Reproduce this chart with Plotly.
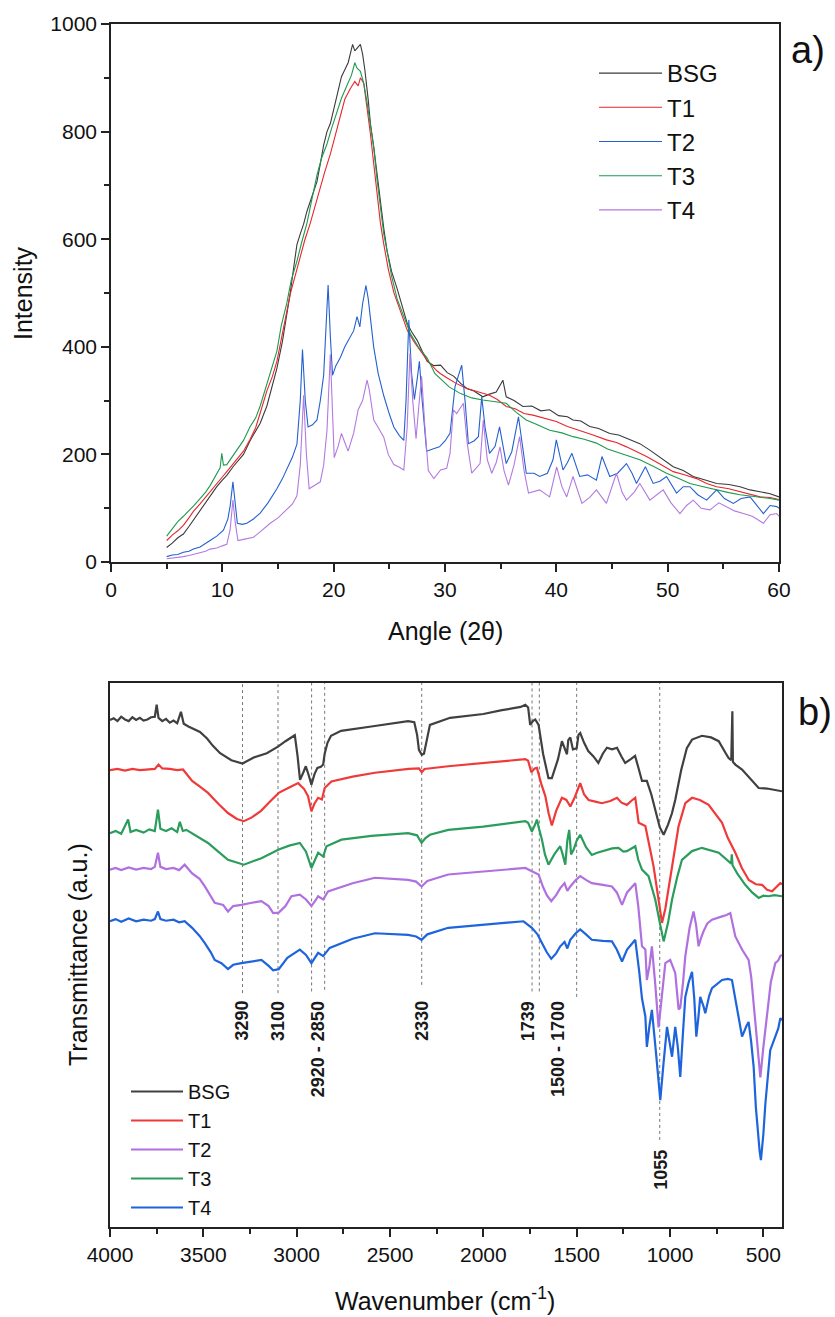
import plotly.graph_objects as go

W, H = 835, 1317

# ---------------- XRD data (panel a) ----------------
bsg_xrd_angle = [5.0, 5.5, 6.0, 6.5, 7.0, 7.4, 8.0, 8.5, 8.9, 9.5, 10.0, 10.4, 11.0, 11.5, 11.9, 12.5, 13.0, 13.4, 14.0, 14.5,
                 14.9, 15.4, 15.8, 16.1, 16.4, 16.7, 17.0, 17.3, 17.6, 18.0, 18.5, 18.8, 19.1, 19.4, 19.7, 20.0, 20.3, 20.7,
                 21.0, 21.3, 21.5, 21.7, 21.9, 22.1, 22.4, 22.6, 22.8, 23.1, 23.3, 23.6, 23.9, 24.2, 24.5, 24.8, 25.2, 25.7,
                 26.1, 26.6, 27.0, 27.5, 28.0, 28.4, 29.0, 29.6, 30.2, 30.8, 31.4, 32.0, 32.6, 33.4, 34.0, 34.6, 35.2, 35.5,
                 36.2, 37.0, 37.8, 38.6, 39.4, 40.2, 41.0, 41.5, 42.2, 43.0, 43.8, 44.8, 45.6, 46.6, 47.5, 48.4, 49.3, 50.5,
                 51.4, 52.3, 53.3, 54.4, 55.5, 56.5, 57.4, 58.3, 59.2, 60.0]
bsg_xrd_int = [27, 35, 45, 52, 66, 78, 96, 110, 123, 140, 152, 161, 178, 190, 200, 226, 245, 258, 290, 330,
               360, 410, 457, 500, 546, 590, 610, 628, 652, 675, 707, 740, 775, 800, 815, 841, 865, 902,
               915, 928, 945, 962, 950, 955, 962, 944, 915, 860, 815, 771, 720, 668, 620, 578, 540, 508,
               478, 444, 428, 412, 390, 373, 365, 366, 352, 345, 332, 322, 318, 307, 312, 316, 338, 307,
               300, 289, 290, 281, 283, 272, 270, 264, 262, 252, 248, 239, 236, 227, 220, 208, 194, 177,
               170, 159, 153, 146, 144, 140, 134, 131, 127, 121]

t1_xrd_angle = [5.0, 5.5, 6.0, 6.5, 7.0, 7.4, 8.0, 8.5, 8.9, 9.5, 10.0, 10.4, 11.0, 11.5, 11.9, 12.5, 13.0, 13.4, 14.0, 14.5,
                14.9, 15.4, 15.8, 16.1, 16.4, 16.7, 17.0, 17.4, 17.9, 18.3, 18.8, 19.2, 19.7, 20.1, 20.6, 21.0, 21.5, 21.9,
                22.2, 22.4, 22.7, 22.9, 23.3, 23.6, 23.9, 24.2, 24.5, 24.9, 25.4, 26.0, 26.6, 27.2, 27.8, 28.5, 29.3, 29.6,
                30.2, 31.0, 31.9, 32.8, 34.0, 34.7, 35.5, 36.3, 37.1, 37.9, 38.8, 40.0, 41.0, 42.1, 43.3, 44.5, 45.4, 46.3,
                47.2, 48.1, 49.3, 50.5, 51.5, 52.6, 53.5, 54.4, 55.5, 56.5, 57.4, 58.3, 59.2, 60.0]
t1_xrd_int = [40, 50, 58, 68, 82, 94, 108, 120, 130, 145, 158, 168, 183, 195, 206, 228, 250, 277, 318, 345,
              373, 425, 468, 498, 521, 545, 566, 598, 630, 660, 694, 725, 758, 790, 828, 860, 880, 893,
              885, 900, 890, 860, 796, 740, 681, 630, 591, 545, 501, 465, 431, 410, 392, 372, 355, 350,
              342, 332, 323, 318, 310, 302, 289, 285, 276, 273, 268, 261, 252, 245, 236, 227, 222, 214,
              205, 196, 182, 168, 162, 155, 146, 140, 136, 131, 126, 121, 120, 116]

t2_xrd_angle = [5.0, 5.5, 6.0, 6.5, 7.0, 7.4, 8.0, 8.5, 8.9, 9.5, 10.1, 10.5, 10.7, 10.95, 11.15, 11.35, 11.8, 12.2, 12.8,
                13.4, 14.1, 14.9, 15.4, 15.8, 16.3, 16.7, 17.0, 17.2, 17.45, 17.7, 18.1, 18.5, 18.8, 19.1, 19.35, 19.5,
                19.7, 19.9, 20.2, 20.6, 21.0, 21.5, 21.8, 22.1, 22.35, 22.6, 22.9, 23.1, 23.6, 24.0, 24.5, 25.0, 25.4,
                25.9, 26.3, 26.5, 26.75, 27.0, 27.25, 27.5, 27.7, 27.95, 28.35, 28.9, 29.5, 30.0, 30.45, 30.9, 31.5, 31.8,
                32.1, 32.6, 33.0, 33.3, 33.6, 34.0, 34.5, 34.9, 35.5, 36.0, 36.6, 37.0, 37.3, 38.0, 38.5, 39.2, 39.7,
                40.0, 40.6, 41.0, 41.4, 42.1, 42.8, 43.6, 44.1, 44.8, 45.5, 46.3, 46.8, 47.2, 48.0, 48.7, 49.3, 49.9,
                50.8, 51.4, 52.0, 52.7, 53.5, 54.4, 55.1, 55.9, 56.6, 57.4, 58.0, 58.6, 59.2, 59.8, 60.0]
t2_xrd_int = [10, 13, 14, 18, 20, 24, 28, 34, 40, 48, 59, 80, 104, 149, 110, 72, 70, 72, 80,
              91, 110, 136, 155, 174, 195, 219, 300, 395, 300, 251, 255, 264, 300, 347, 450, 515,
              420, 347, 365, 380, 400, 418, 430, 456, 437, 480, 514, 490, 399, 350, 309, 275, 251,
              235, 226, 300, 450, 350, 302, 340, 373, 300, 206, 210, 214, 225, 239, 326, 366, 300,
              220, 225, 233, 307, 250, 202, 215, 251, 183, 205, 270, 210, 165, 165, 159, 165, 190,
              227, 171, 185, 202, 159, 162, 152, 196, 159, 165, 183, 165, 146, 177, 146, 150, 159,
              128, 140, 140, 125, 115, 134, 118, 109, 118, 121, 105, 90, 105, 103, 100]

t3_xrd_angle = [5.0, 5.5, 6.0, 6.5, 7.0, 7.4, 8.0, 8.5, 8.9, 9.4, 9.8, 9.95, 10.1, 10.4, 11.0, 11.5, 11.9, 12.5, 13.0,
                13.4, 13.9, 14.4, 14.9, 15.3, 15.8, 16.2, 16.7, 17.1, 17.6, 18.0, 18.5, 18.9, 19.4, 19.8, 20.3, 20.7,
                21.2, 21.6, 21.9, 22.1, 22.4, 22.7, 23.0, 23.3, 23.6, 23.9, 24.2, 24.5, 24.8, 25.2, 25.7, 26.3, 26.9,
                27.6, 28.4, 29.1, 29.6, 30.4, 31.4, 32.4, 33.4, 34.4, 35.5, 36.4, 37.3, 38.3, 39.4, 40.5, 41.5, 42.5,
                43.6, 44.6, 45.7, 46.6, 47.5, 48.7, 49.9, 51.0, 52.0, 53.2, 54.4, 55.5, 56.5, 57.4, 58.3, 59.2, 60.0]
t3_xrd_int = [48, 62, 75, 85, 95, 104, 118, 130, 142, 160, 175, 202, 180, 181, 200, 215, 226, 252, 268,
              290, 325, 360, 392, 440, 482, 525, 559, 592, 630, 670, 719, 750, 777, 805, 835, 862,
              886, 905, 928, 918, 912, 890, 854, 810, 771, 710, 655, 610, 578, 532, 489, 455, 424,
              400, 379, 350, 340, 325, 313, 305, 301, 298, 295, 278, 264, 255, 245, 240, 233, 228,
              221, 210, 202, 196, 190, 178, 165, 155, 146, 140, 134, 129, 125, 123, 121, 118, 115]

t4_xrd_angle = [5.0, 5.5, 6.0, 6.5, 7.0, 7.4, 8.0, 8.5, 8.9, 9.5, 10.0, 10.4, 10.7, 10.95, 11.15, 11.4, 11.9, 12.4, 12.8,
                13.5, 14.3, 15.0, 15.8, 16.3, 16.7, 17.0, 17.3, 17.55, 17.8, 18.3, 18.8, 19.1, 19.4, 19.7, 19.85, 20.05,
                20.4, 20.7, 21.0, 21.3, 21.8, 22.2, 22.6, 23.0, 23.2, 23.6, 24.0, 24.5, 24.9, 25.4, 25.9, 26.3, 26.6,
                26.85, 27.1, 27.4, 27.65, 27.9, 28.2, 28.5, 29.0, 29.6, 30.15, 30.45, 30.75, 31.05, 31.65, 32.0, 32.4,
                33.15, 33.44, 33.8, 34.2, 34.6, 34.94, 35.3, 35.7, 36.2, 36.7, 37.1, 37.5, 38.5, 39.4, 40.03, 40.5,
                40.93, 41.5, 42.3, 43.0, 43.6, 44.5, 45.4, 45.9, 46.3, 47.0, 47.5, 48.4, 49.0, 49.6, 50.3, 51.1, 51.7,
                52.3, 53.0, 53.8, 54.6, 55.3, 56.0, 56.8, 57.6, 58.6, 59.2, 59.8, 60.0]
t4_xrd_int = [6, 7, 9, 10, 12, 14, 17, 20, 24, 26, 30, 33, 60, 115, 75, 40, 42, 45, 46,
              58, 72, 82, 97, 108, 123, 180, 310, 200, 136, 142, 149, 180, 245, 386, 290, 194,
              215, 239, 222, 206, 240, 283, 300, 338, 320, 264, 250, 232, 200, 181, 176, 171, 250,
              388, 300, 229, 290, 345, 250, 170, 155, 171, 174, 202, 283, 276, 295, 220, 165,
              183, 264, 190, 165, 185, 214, 170, 143, 180, 233, 170, 128, 134, 121, 177, 140,
              121, 159, 109, 120, 134, 109, 165, 130, 115, 130, 146, 115, 125, 134, 110, 90, 105,
              115, 100, 97, 110, 103, 95, 90, 85, 72, 88, 90, 85]

# ---------------- FTIR data (panel b), stacked a.u. ----------------
bsg_ftir_wn = [4000, 3980, 3960, 3940, 3920, 3900, 3880, 3860, 3840, 3820, 3800, 3780, 3760, 3750, 3740, 3720, 3700, 3680,
               3660, 3640, 3620, 3605, 3580, 3550, 3518, 3480, 3450, 3410, 3350, 3290, 3230, 3160, 3100, 3060, 3035, 3010,
               2995, 2982, 2965, 2951, 2935, 2921, 2905, 2889, 2870, 2858, 2850, 2835, 2816, 2762, 2600, 2403, 2370, 2355,
               2345, 2330, 2318, 2305, 2286, 2178, 2000, 1900, 1800, 1775, 1760, 1749, 1735, 1722, 1704, 1680, 1651, 1633,
               1600, 1579, 1560, 1552, 1545, 1534, 1520, 1500, 1490, 1481, 1460, 1438, 1410, 1384, 1360, 1338, 1310, 1284,
               1260, 1240, 1210, 1187, 1170, 1150, 1124, 1100, 1079, 1055, 1034, 1010, 990, 972, 940, 910, 882, 829, 780,
               739, 700, 686, 672, 669, 666, 663, 650, 614, 570, 525, 480, 440, 409, 400]
bsg_ftir_t = [93.2, 93.5, 93.0, 93.8, 93.3, 93.0, 93.7, 93.2, 93.6, 93.1, 93.3, 93.7, 93.8, 96.0, 93.6, 93.0, 93.4, 92.7,
              93.1, 92.6, 94.7, 92.5, 92.0, 91.5, 91.0, 89.8, 88.5, 87.1, 85.8, 85.2, 86.3, 87.1, 88.3, 89.3, 89.9, 90.4,
              86.5, 82.2, 83.5, 84.7, 83.0, 81.3, 83.2, 84.4, 84.6, 85.0, 87.0, 89.0, 90.3, 91.2, 92.0, 93.0, 92.8, 90.5,
              87.7, 86.8, 87.0, 89.0, 92.3, 93.6, 94.3, 95.0, 95.6, 96.0, 95.5, 92.3, 93.0, 93.3, 92.3, 87.0, 82.5, 82.5,
              86.0, 89.3, 87.5, 86.9, 89.5, 90.0, 87.8, 88.0, 90.5, 90.8, 89.0, 87.5, 86.5, 85.3, 87.0, 88.1, 87.8, 88.1,
              86.5, 85.3, 86.0, 86.6, 84.5, 82.0, 82.0, 79.5, 76.7, 73.5, 72.1, 74.0, 76.0, 78.5, 84.0, 88.0, 89.6, 90.3, 90.0,
              89.3, 87.0, 86.2, 85.8, 94.8, 94.8, 85.5, 85.0, 84.1, 82.5, 80.7, 80.6, 80.3, 80.1, 80.1]

t1_ftir_wn = [4000, 3960, 3920, 3880, 3840, 3800, 3760, 3740, 3720, 3680, 3640, 3609, 3560, 3520, 3475, 3420, 3368, 3320,
              3283, 3240, 3191, 3140, 3096, 3040, 2992, 2960, 2939, 2921, 2905, 2885, 2865, 2850, 2814, 2700, 2581, 2400,
              2345, 2330, 2315, 2188, 2000, 1850, 1775, 1760, 1743, 1725, 1713, 1690, 1668, 1650, 1633, 1610, 1579, 1555,
              1534, 1510, 1495, 1481, 1460, 1436, 1400, 1365, 1320, 1284, 1260, 1231, 1205, 1186, 1168, 1132, 1110, 1088,
              1065, 1043, 1025, 1008, 980, 954, 930, 918, 882, 840, 793, 760, 721, 690, 650, 615, 578, 540, 507, 480, 453,
              430, 409, 400]
t1_ftir_t = [84.0, 84.2, 83.9, 84.2, 84.0, 84.1, 84.2, 85.0, 84.3, 84.2, 84.0, 84.1, 82.0, 81.0, 79.8, 77.8, 76.1, 75.0,
             74.6, 75.3, 76.5, 78.3, 79.8, 80.8, 81.6, 80.5, 79.2, 76.4, 77.8, 78.9, 78.6, 80.7, 81.9, 82.8, 83.5, 84.2,
             84.3, 83.6, 84.2, 84.7, 85.3, 85.8, 86.0, 85.7, 83.6, 84.3, 84.4, 81.5, 79.2, 76.0, 73.8, 76.5, 78.9, 78.5,
             77.3, 79.0, 80.5, 81.6, 79.5, 78.5, 78.2, 77.9, 78.3, 78.9, 78.0, 77.6, 78.4, 78.9, 74.3, 73.7, 70.0, 66.3,
             61.0, 55.9, 58.5, 62.0, 68.0, 73.7, 76.5, 77.9, 78.9, 78.5, 77.6, 76.0, 74.3, 71.5, 68.8, 66.0, 63.8, 63.0,
             62.9, 62.0, 61.7, 62.5, 63.2, 63.0]

t2_ftir_wn = [4000, 3970, 3940, 3900, 3860, 3820, 3780, 3760, 3743, 3730, 3700, 3660, 3630, 3600, 3560, 3520, 3492, 3460,
              3439, 3394, 3368, 3340, 3296, 3240, 3189, 3150, 3126, 3096, 3060, 3028, 2983, 2950, 2921, 2900, 2885, 2858,
              2832, 2700, 2581, 2403, 2360, 2331, 2300, 2188, 2000, 1850, 1775, 1740, 1704, 1680, 1660, 1636, 1610, 1588,
              1565, 1550, 1534, 1505, 1481, 1450, 1419, 1360, 1311, 1285, 1257, 1230, 1186, 1170, 1150, 1132, 1124, 1110,
              1097, 1080, 1061, 1045, 1025, 999, 972, 954, 945, 930, 918, 895, 874, 860, 847, 835, 820, 800, 775, 721, 700,
              677, 665, 650, 614, 579, 565, 552, 535, 516, 500, 480, 460, 436, 420, 409, 400]
t2_ftir_t = [65.7, 66.0, 65.6, 66.1, 65.7, 66.0, 65.8, 66.2, 68.8, 66.2, 65.8, 66.0, 65.6, 66.6, 65.0, 64.0, 62.6, 60.8,
             59.6, 59.2, 58.0, 59.0, 59.2, 59.6, 59.9, 59.0, 57.7, 57.8, 59.0, 60.8, 61.1, 60.2, 59.0, 60.0, 60.8, 60.2,
             61.7, 63.2, 64.2, 63.8, 63.5, 62.6, 63.6, 64.8, 65.4, 65.8, 66.0, 65.4, 64.8, 62.5, 61.0, 59.9, 61.0, 62.3,
             63.2, 61.8, 62.6, 63.8, 64.5, 63.8, 63.2, 62.9, 62.6, 61.5, 59.2, 61.5, 63.2, 59.0, 51.6, 51.0, 45.4, 48.0,
             51.6, 45.0, 36.7, 42.0, 48.5, 49.1, 46.7, 40.0, 40.3, 45.0, 49.8, 55.0, 58.0, 55.5, 51.6, 53.0, 54.4, 55.8, 56.5,
             57.1, 57.3, 57.7, 55.5, 53.4, 51.0, 49.1, 46.0, 41.2, 34.0, 27.5, 33.0, 39.3, 45.0, 48.5, 49.0, 49.8, 50.0]

t3_ftir_wn = [4000, 3970, 3940, 3903, 3890, 3860, 3820, 3790, 3760, 3743, 3730, 3700, 3670, 3640, 3626, 3610, 3591, 3540,
              3475, 3420, 3368, 3283, 3189, 3096, 3040, 2983, 2950, 2921, 2900, 2885, 2858, 2840, 2760, 2600, 2403, 2355,
              2331, 2310, 2286, 2188, 2000, 1850, 1775, 1760, 1740, 1725, 1713, 1700, 1686, 1670, 1651, 1620, 1588, 1575,
              1561, 1550, 1540, 1530, 1516, 1500, 1481, 1450, 1419, 1390, 1356, 1310, 1276, 1250, 1231, 1205, 1186, 1170,
              1150, 1115, 1079, 1055, 1034, 1010, 989, 960, 936, 882, 829, 739, 700, 672, 669, 665, 640, 597, 560, 525, 500,
              472, 440, 409, 400]
t3_ftir_t = [72.4, 72.8, 72.3, 74.9, 72.6, 73.0, 72.5, 73.1, 72.8, 76.7, 73.2, 72.8, 73.3, 72.6, 74.5, 72.8, 73.0, 72.0,
             70.6, 69.0, 67.5, 66.6, 67.8, 69.4, 70.1, 70.6, 69.0, 66.0, 67.5, 68.8, 68.1, 70.0, 71.2, 71.9, 72.4, 72.0,
             70.6, 71.5, 72.1, 73.0, 73.6, 74.2, 74.6, 74.3, 72.7, 73.8, 74.9, 73.0, 71.2, 68.5, 66.6, 68.5, 70.0, 68.5,
             66.6, 71.0, 73.0, 68.5, 69.4, 71.0, 72.1, 69.8, 68.4, 68.8, 69.1, 69.6, 69.7, 69.0, 69.1, 69.6, 70.0, 67.5,
             65.7, 64.5, 60.2, 56.0, 52.5, 56.0, 60.2, 64.5, 67.5, 69.1, 69.7, 68.8, 67.7, 66.8, 68.5, 66.5, 65.0, 62.9,
             61.5, 60.5, 60.9, 60.8, 61.0, 60.8, 60.8]

t4_ftir_wn = [4000, 3970, 3940, 3900, 3860, 3820, 3780, 3760, 3743, 3730, 3700, 3660, 3630, 3600, 3560, 3520, 3492, 3460,
              3439, 3403, 3368, 3340, 3296, 3240, 3189, 3150, 3126, 3096, 3050, 2983, 2950, 2921, 2900, 2885, 2858, 2823,
              2700, 2581, 2403, 2360, 2331, 2300, 2188, 2000, 1850, 1785, 1740, 1710, 1686, 1660, 1636, 1610, 1588, 1565,
              1550, 1534, 1505, 1481, 1450, 1419, 1360, 1311, 1285, 1257, 1230, 1186, 1165, 1150, 1132, 1124, 1110, 1097,
              1075, 1052, 1035, 1016, 989, 972, 958, 945, 930, 918, 900, 882, 870, 859, 848, 838, 820, 811, 790, 775, 721,
              690, 668, 640, 614, 590, 579, 565, 552, 540, 534, 520, 513, 500, 489, 475, 463, 436, 420, 409, 400]
t4_ftir_t = [56.2, 56.6, 56.1, 56.7, 56.2, 56.5, 56.3, 56.6, 58.0, 56.6, 56.3, 56.5, 56.0, 56.2, 55.0, 53.5, 52.2, 50.5,
             49.1, 48.5, 47.4, 48.2, 48.5, 48.8, 49.1, 48.0, 47.2, 47.4, 49.5, 51.0, 50.0, 48.5, 49.5, 50.4, 49.8, 51.3,
             53.0, 54.0, 53.7, 53.4, 52.8, 53.8, 55.0, 55.6, 56.0, 56.2, 55.0, 53.8, 52.2, 50.5, 49.3, 50.3, 51.6, 52.4,
             51.2, 52.8, 54.0, 54.7, 53.8, 52.8, 52.6, 52.5, 51.0, 48.8, 51.0, 52.8, 47.0, 42.0, 38.7, 33.1, 37.0, 39.9,
             32.0, 23.3, 30.0, 36.8, 31.3, 36.8, 33.0, 27.6, 36.0, 42.3, 45.0, 46.9, 42.0, 35.0, 38.5, 42.3, 40.5, 39.3,
             42.5, 43.9, 45.4, 45.6, 45.4, 40.0, 35.0, 37.0, 37.7, 34.0, 29.5, 22.0, 19.1, 14.0, 12.3, 17.0, 22.7, 28.0,
             32.5, 35.0, 36.5, 38.4, 38.0]

# Band markers (wavenumber, bottom of dashed guide in a.u.)
band_lines_wn = [3290, 3100, 2920, 2850, 2330, 1739, 1700, 1500, 1055]
band_lines_bottom = [43.0, 43.0, 43.3, 43.6, 44.5, 43.3, 43.3, 42.3, 16.0]
band_labels = ["3290", "3100", "2920 - 2850", "2330", "1739", "1500 - 1700", "1055"]
band_label_wn = [3290, 3100, 2885, 2330, 1760, 1600, 1045]
band_label_top = [41.9, 41.9, 41.9, 41.9, 41.9, 41.9, 14.5]

FONT = "Liberation Sans, Arial, sans-serif"

xrd_series = [
    ("BSG", bsg_xrd_angle, bsg_xrd_int, "#3a3a3a"),
    ("T1", t1_xrd_angle, t1_xrd_int, "#e8262a"),
    ("T2", t2_xrd_angle, t2_xrd_int, "#2460d0"),
    ("T3", t3_xrd_angle, t3_xrd_int, "#1e9a50"),
    ("T4", t4_xrd_angle, t4_xrd_int, "#b27ae0"),
]
ftir_series = [
    ("BSG", bsg_ftir_wn, bsg_ftir_t, "#404040"),
    ("T1", t1_ftir_wn, t1_ftir_t, "#f03a3a"),
    ("T2", t2_ftir_wn, t2_ftir_t, "#b070e0"),
    ("T3", t3_ftir_wn, t3_ftir_t, "#2a9d5c"),
    ("T4", t4_ftir_wn, t4_ftir_t, "#1e64dc"),
]

fig = go.Figure()
for name, x, y, c in xrd_series:
    fig.add_trace(go.Scatter(x=x, y=y, mode="lines", name=name, line=dict(color=c, width=1.1),
                             xaxis="x", yaxis="y", legend="legend", legendgroup="a" + name))
for name, x, y, c in ftir_series:
    fig.add_trace(go.Scatter(x=x, y=y, mode="lines", name=name, line=dict(color=c, width=2.2),
                             xaxis="x2", yaxis="y2", legend="legend2", legendgroup="b" + name))

shapes = []
for wn, yb in zip(band_lines_wn, band_lines_bottom):
    shapes.append(dict(type="line", xref="x2", yref="y2", x0=wn, x1=wn, y0=yb, y1=100,
                       line=dict(color="#777777", width=1, dash="3px,3px"), layer="below"))

annotations = []
for txt, wn, yt in zip(band_labels, band_label_wn, band_label_top):
    annotations.append(dict(text="<b>" + txt + "</b>", x=wn, y=yt, xref="x2", yref="y2", textangle=-90,
                            xanchor="center", yanchor="top", showarrow=False,
                            font=dict(family=FONT, size=18, color="#1a1a1a")))

def pa(px, py, text, size, angle=0):
    return dict(text=text, x=px / W, y=1 - py / H, xref="paper", yref="paper", showarrow=False,
                textangle=angle, xanchor="center", yanchor="middle", font=dict(family=FONT, size=size, color="#111"))

annotations += [
    pa(23, 293, "Intensity", 25, -90),
    pa(445, 631, "Angle (2θ)", 25),
    pa(78, 955, "Transmittance (a.u.)", 25, -90),
    pa(445, 1299, "Wavenumber (cm<sup>-1</sup>)", 25),
    pa(808, 50, "a)", 38),
    pa(815, 712, "b)", 38),
]

axis_common = dict(showline=True, linecolor="#222", linewidth=1.6, mirror=True, showgrid=False, zeroline=False,
                   ticks="outside", tickwidth=1.5, tickcolor="#222", ticklen=8, automargin=False,
                   tickfont=dict(family=FONT, size=21, color="#111"))

fig.update_layout(
    width=W, height=H, margin=dict(l=0, r=0, t=0, b=0, autoexpand=False),
    paper_bgcolor="white", plot_bgcolor="white",
    xaxis=dict(domain=[111 / W, 779 / W], range=[0, 60], dtick=10, tick0=0, anchor="y",
               minor=dict(ticks="outside", ticklen=5, dtick=5, tickwidth=1.5, tickcolor="#222"), **axis_common),
    yaxis=dict(domain=[1 - 562 / H, 1 - 24 / H], range=[0, 1000], dtick=200, tick0=0, anchor="x",
               minor=dict(ticks="outside", ticklen=5, dtick=100, tickwidth=1.5, tickcolor="#222"), **axis_common),
    xaxis2=dict(domain=[110 / W, 782 / W], range=[4000, 400], dtick=500, tick0=500, anchor="y2",
                minor=dict(ticks="outside", ticklen=5, dtick=250, tickwidth=1.5, tickcolor="#222"), **axis_common),
    yaxis2=dict(domain=[1 - 1227 / H, 1 - 683 / H], range=[0, 100], anchor="x2",
                showline=True, linecolor="#222", linewidth=1.6, mirror=True, showgrid=False, zeroline=False,
                ticks="", showticklabels=False),
    legend=dict(x=594 / W, y=1 - 51 / H, xanchor="left", yanchor="top", bgcolor="rgba(0,0,0,0)",
                font=dict(family=FONT, size=24, color="#111"), itemwidth=63, tracegroupgap=0,
                traceorder="grouped"),
    legend2=dict(x=126 / W, y=1 - 1072 / H, xanchor="left", yanchor="top", bgcolor="rgba(0,0,0,0)",
                 font=dict(family=FONT, size=20, color="#111"), itemwidth=52, tracegroupgap=0,
                 traceorder="grouped"),
    shapes=shapes, annotations=annotations, showlegend=True,
)

fig.write_html("out.html")
